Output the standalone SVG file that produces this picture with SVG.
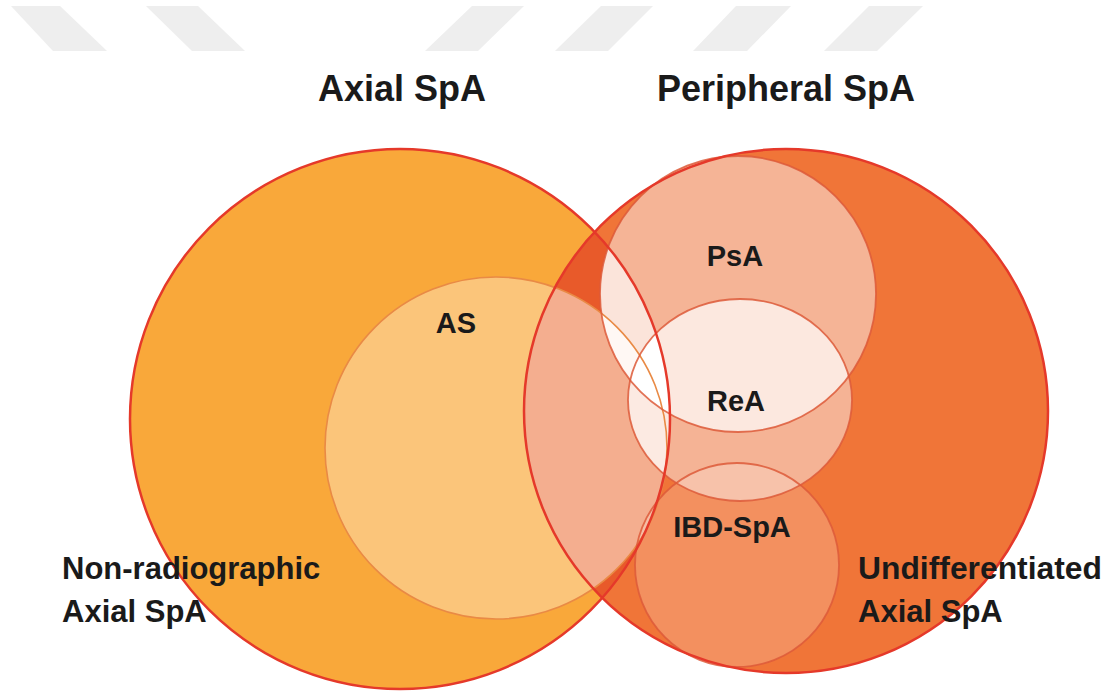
<svg xmlns="http://www.w3.org/2000/svg" width="1115" height="694" viewBox="0 0 1115 694">
<style>
.stripe{fill:#EEEEEE}
.title{font-family:"Liberation Sans",Arial,sans-serif;font-weight:bold;font-size:36px;fill:#1a1a1a}
.lbl{font-family:"Liberation Sans",Arial,sans-serif;font-weight:bold;font-size:29px;fill:#1a1a1a}
.side{font-family:"Liberation Sans",Arial,sans-serif;font-weight:bold;font-size:31px;fill:#1a1a1a}
.outer{fill:none;stroke:#E5392A;stroke-width:2.5}
.inner{fill:none;stroke:#DD5A3A;stroke-width:1.8;stroke-opacity:0.85}
.asline{fill:none;stroke:#E98A45;stroke-width:1.6}
</style>
<defs>
<clipPath id="cL"><circle cx="400" cy="419" r="270"/></clipPath>
<clipPath id="cR"><circle cx="786" cy="411" r="262"/></clipPath>
<clipPath id="cAS"><circle cx="496" cy="448" r="171"/></clipPath>
<clipPath id="cPs"><circle cx="738" cy="294" r="138"/></clipPath>
<clipPath id="cRe"><ellipse cx="740" cy="400" rx="112" ry="101"/></clipPath>
</defs>
<rect width="1115" height="694" fill="#FFFFFF"/>
<g id="watermark">
<polygon class="stripe" points="11,6 60,6 107,51 53,51"/>
<polygon class="stripe" points="146,6 198,6 245,51 192,51"/>
<polygon class="stripe" points="472,6 524,6 478,51 425,51"/>
<polygon class="stripe" points="601,6 653,6 608,51 555,51"/>
<polygon class="stripe" points="736,6 791,6 747,51 693,51"/>
<polygon class="stripe" points="869,6 923,6 877,51 824,51"/>
</g>
<g id="axial-spa">
<circle cx="400" cy="419" r="270" fill="#F9A83A"/>
</g>
<g id="peripheral-spa">
<circle cx="786" cy="411" r="262" fill="#F07538"/>
<g clip-path="url(#cL)"><circle cx="786" cy="411" r="262" fill="#E85A2A"/></g>
</g>
<g id="as">
<circle cx="496" cy="448" r="171" fill="#FBC57A"/>
<g clip-path="url(#cR)"><circle cx="496" cy="448" r="171" fill="#F4AE8F"/></g>
</g>
<g id="psa">
<circle cx="738" cy="294" r="138" fill="#F5B496"/>
<g clip-path="url(#cL)"><circle cx="738" cy="294" r="138" fill="#FBE4DA"/></g>
<g clip-path="url(#cL)"><g clip-path="url(#cAS)"><circle cx="738" cy="294" r="138" fill="#FFF8F4"/></g></g>
</g>
<g id="rea">
<ellipse cx="740" cy="400" rx="112" ry="101" fill="#F5B395"/>
<g clip-path="url(#cPs)"><ellipse cx="740" cy="400" rx="112" ry="101" fill="#FCE8DF"/></g>
<g clip-path="url(#cL)"><ellipse cx="740" cy="400" rx="112" ry="101" fill="#FCEAE2"/></g>
<g clip-path="url(#cL)"><g clip-path="url(#cPs)"><ellipse cx="740" cy="400" rx="112" ry="101" fill="#FFFFFF"/></g></g>
</g>
<g id="ibd-spa">
<circle cx="737" cy="565" r="102" fill="#FFFFFF" fill-opacity="0.2"/>
</g>
<g id="outlines">
<circle class="asline" cx="496" cy="448" r="171"/>
<circle class="inner" cx="738" cy="294" r="138"/>
<ellipse class="inner" cx="740" cy="400" rx="112" ry="101"/>
<circle class="inner" cx="737" cy="565" r="102"/>
<circle class="outer" cx="786" cy="411" r="262"/>
<circle class="outer" cx="400" cy="419" r="270"/>
</g>
<g id="labels">
<text class="title" x="402" y="101" text-anchor="middle">Axial SpA</text>
<text class="title" x="786" y="101" text-anchor="middle">Peripheral SpA</text>
<text class="lbl" x="456" y="333" text-anchor="middle">AS</text>
<text class="lbl" x="735" y="266" text-anchor="middle">PsA</text>
<text class="lbl" x="736" y="411" text-anchor="middle">ReA</text>
<text class="lbl" x="732" y="537" text-anchor="middle">IBD-SpA</text>
<text class="side" x="62" y="579">Non-radiographic</text>
<text class="side" x="62" y="622">Axial SpA</text>
<text class="side" x="858" y="579" textLength="244" lengthAdjust="spacingAndGlyphs">Undifferentiated</text>
<text class="side" x="858" y="622">Axial SpA</text>
</g>
</svg>
